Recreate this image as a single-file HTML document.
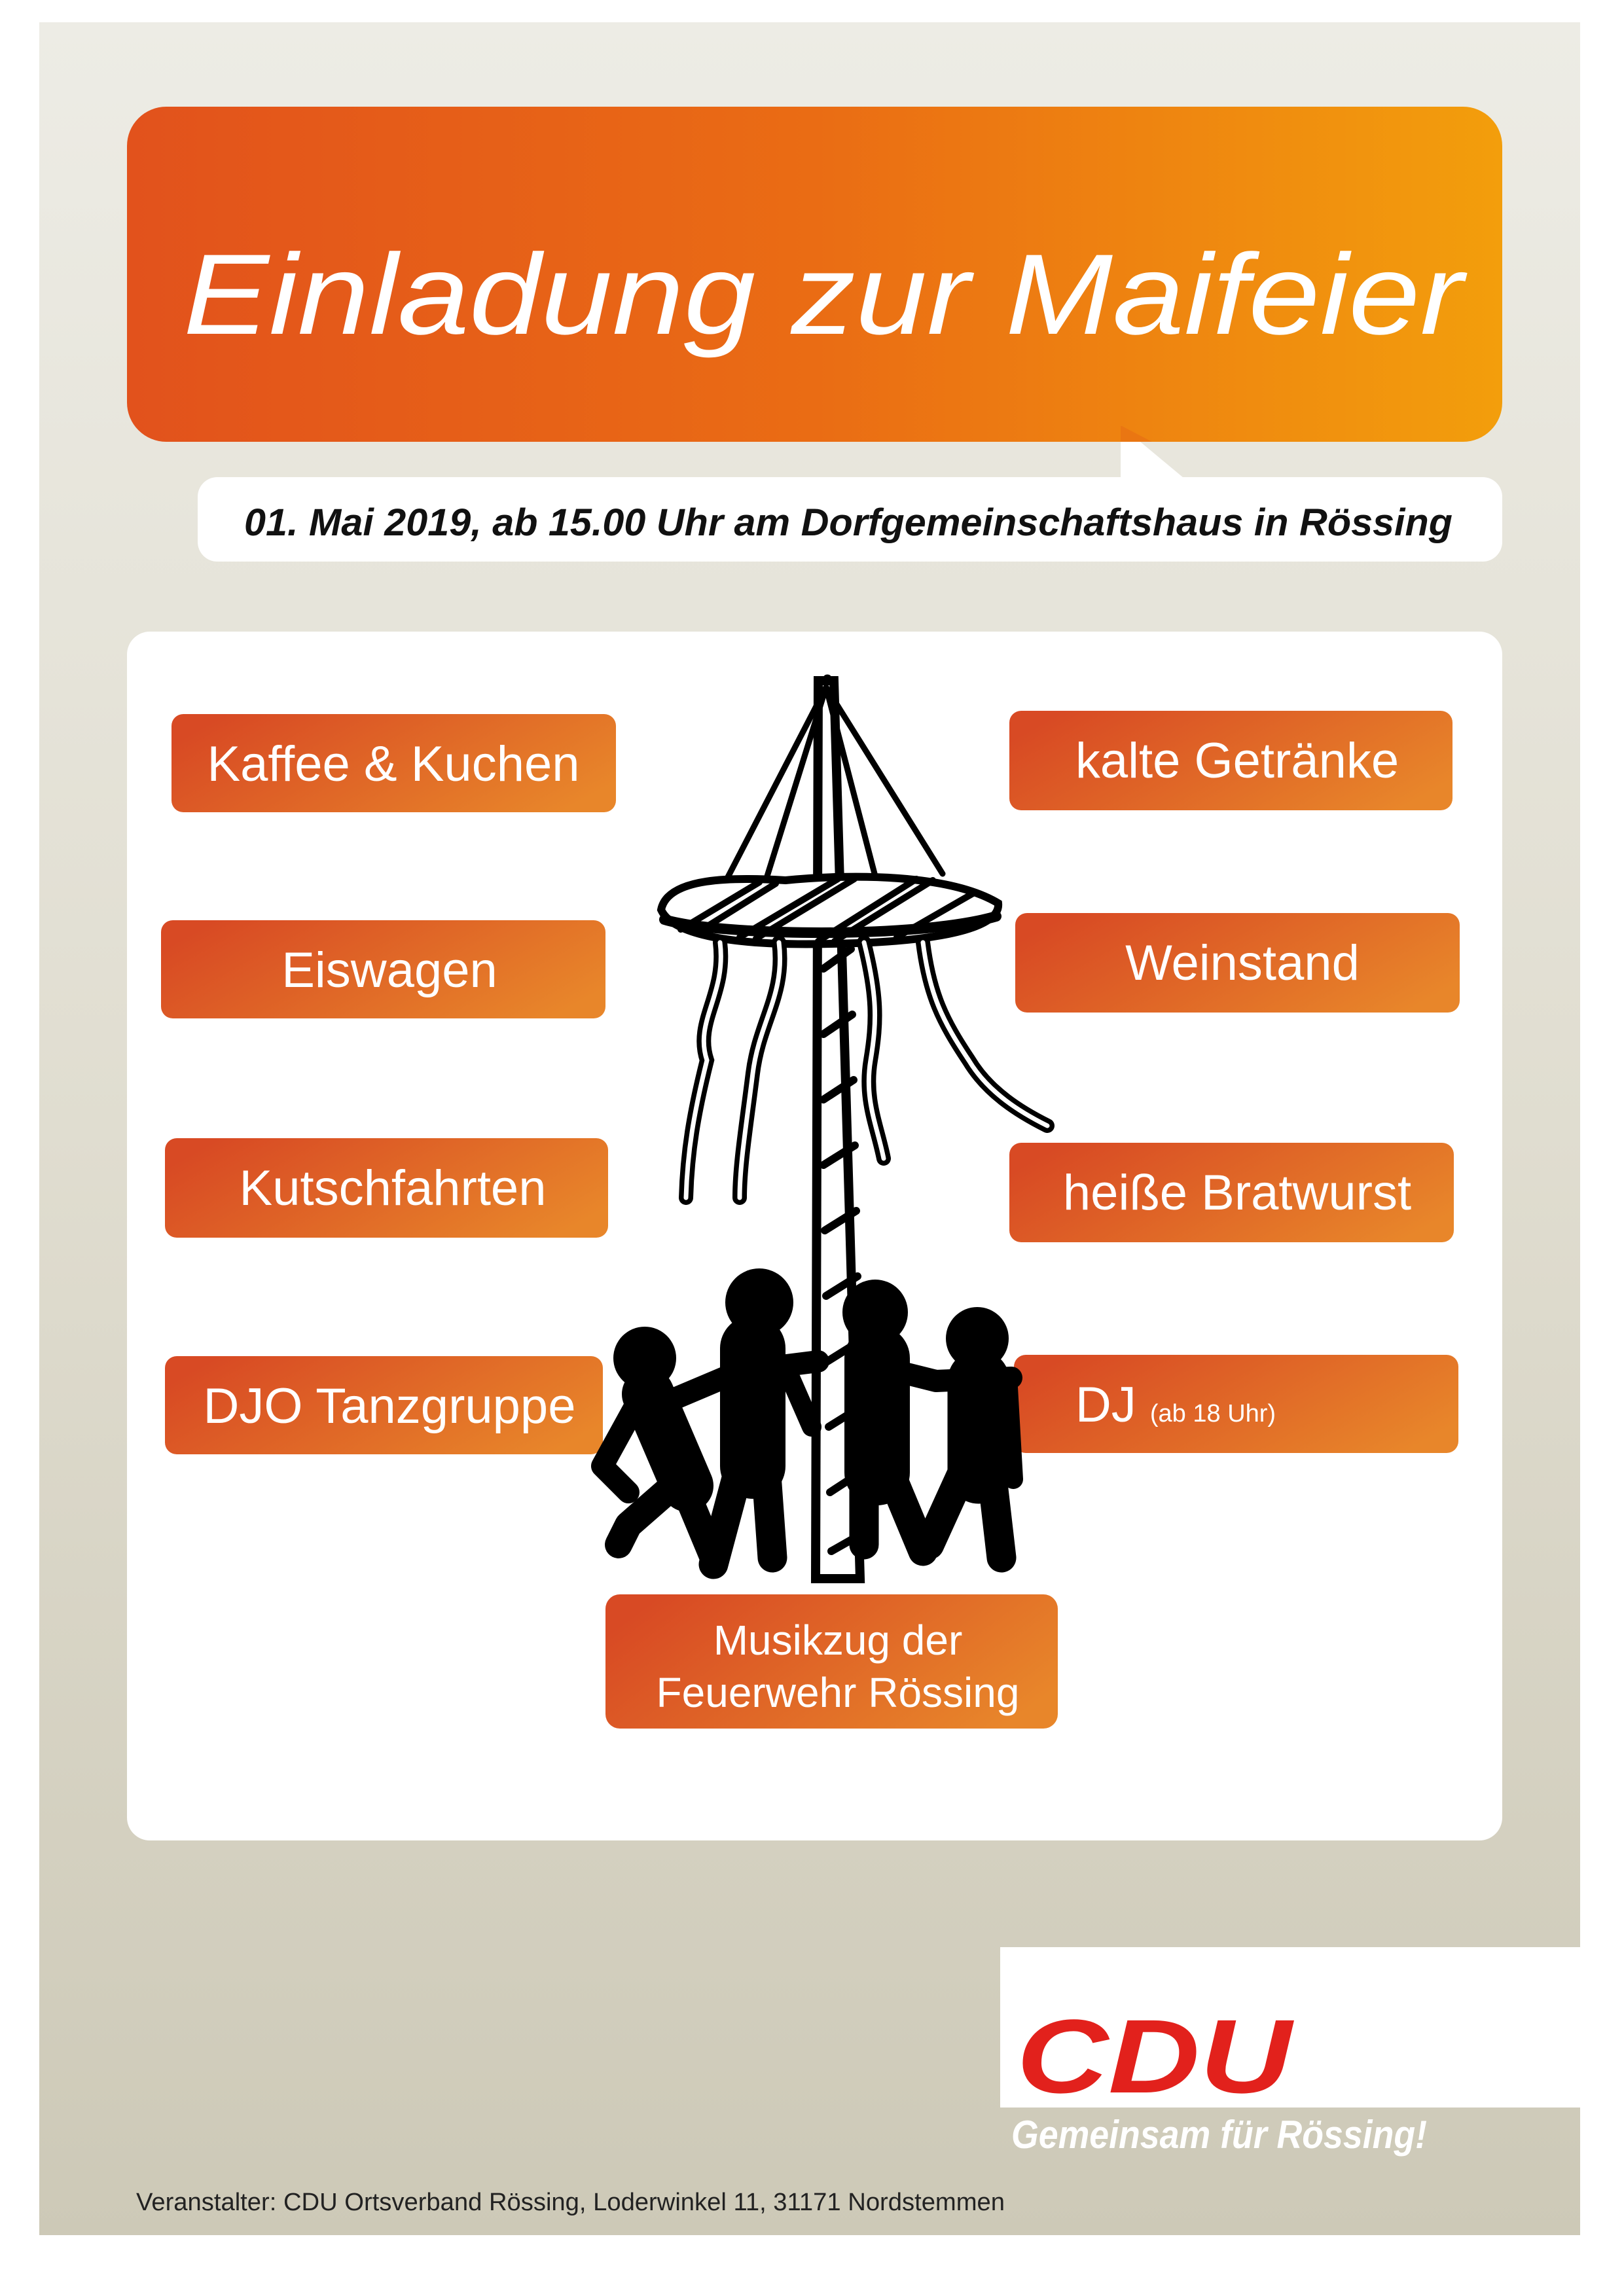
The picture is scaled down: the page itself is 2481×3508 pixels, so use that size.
<!DOCTYPE html>
<html><head><meta charset="utf-8"><style>
html,body{margin:0;padding:0;background:#fff}
svg{display:block}
text{font-family:"Liberation Sans",sans-serif}
</style></head><body>
<svg width="2481" height="3508" viewBox="0 0 2481 3508" xmlns="http://www.w3.org/2000/svg">
<defs>
<linearGradient id="bg" x1="0" y1="0" x2="0" y2="1">
<stop offset="0" stop-color="#edece5"/><stop offset="0.5" stop-color="#e0ddd0"/><stop offset="1" stop-color="#cdc9b7"/>
</linearGradient>
<linearGradient id="tt" x1="0" y1="0" x2="1" y2="0">
<stop offset="0" stop-color="#e2521c"/><stop offset="0.5" stop-color="#ea6c14"/><stop offset="1" stop-color="#f39e0c"/>
</linearGradient>
<linearGradient id="bt" x1="0" y1="0.3" x2="1" y2="0.7">
<stop offset="0" stop-color="#d84a24"/><stop offset="1" stop-color="#e8862a"/>
</linearGradient>
</defs>
<rect x="60" y="34" width="2354" height="3381" fill="url(#bg)"/>
<rect x="194" y="163" width="2101" height="512" rx="60" fill="url(#tt)"/>
<polygon points="1712,650 1712,730 1808,730" fill="#fff"/>
<polygon points="1712,650 1712,675 1760,675" fill="#ea7612"/>
<text x="280" y="510" font-size="175" font-style="italic" fill="#fff" textLength="1955" lengthAdjust="spacingAndGlyphs">Einladung zur Maifeier</text>
<rect x="302" y="729" width="1993" height="129" rx="30" fill="#fff"/>
<text x="373" y="818" font-size="58" font-weight="bold" font-style="italic" fill="#111" textLength="1846" lengthAdjust="spacingAndGlyphs">01. Mai 2019, ab 15.00 Uhr  am Dorfgemeinschaftshaus in Rössing</text>
<rect x="194" y="965" width="2101" height="1847" rx="35" fill="#fff"/>
<g font-size="76" fill="#fff" text-anchor="middle">
<rect x="262" y="1091" width="679" height="150" rx="18" fill="url(#bt)"/><text x="601" y="1193" fill="#fff">Kaffee &amp; Kuchen</text>
<rect x="1542" y="1086" width="677" height="152" rx="18" fill="url(#bt)"/><text x="1890" y="1188" fill="#fff">kalte Getränke</text>
<rect x="246" y="1406" width="679" height="150" rx="18" fill="url(#bt)"/><text x="595" y="1508" fill="#fff">Eiswagen</text>
<rect x="1551" y="1395" width="679" height="152" rx="18" fill="url(#bt)"/><text x="1898" y="1497" fill="#fff">Weinstand</text>
<rect x="252" y="1739" width="677" height="152" rx="18" fill="url(#bt)"/><text x="600" y="1841" fill="#fff">Kutschfahrten</text>
<rect x="1542" y="1746" width="679" height="152" rx="18" fill="url(#bt)"/><text x="1890" y="1848" fill="#fff">heiße Bratwurst</text>
<rect x="252" y="2072" width="669" height="150" rx="18" fill="url(#bt)"/><text x="595" y="2174" fill="#fff">DJO Tanzgruppe</text>
<rect x="1549" y="2070" width="679" height="150" rx="18" fill="url(#bt)"/><text x="1796" y="2172" fill="#fff">DJ <tspan font-size="38">(ab 18 Uhr)</tspan></text>
<rect x="925" y="2436" width="691" height="205" rx="22" fill="url(#bt)"/>
<text x="1280" y="2528" font-size="64" fill="#fff">Musikzug der</text>
<text x="1280" y="2608" font-size="64" fill="#fff">Feuerwehr Rössing</text>
</g>
<!-- maypole -->
<g stroke="#000" fill="none" stroke-linecap="round">
<ellipse cx="1264" cy="1036" rx="6" ry="5" fill="#000"/>
<polygon points="1250,1040 1274,1040 1314,2412 1246,2412" fill="#fff" stroke="#000" stroke-width="14"/>
<g stroke-width="12">
<path d="M1258,1480 L1300,1450 M1258,1580 L1302,1550 M1258,1680 L1304,1650 M1258,1780 L1306,1750 M1260,1880 L1308,1850 M1262,1980 L1310,1950 M1264,2080 L1312,2050 M1266,2180 L1314,2150 M1268,2280 L1314,2250 M1270,2370 L1314,2345"/>
</g>
<g stroke-width="9">
<line x1="1262" y1="1050" x2="1112" y2="1340"/>
<line x1="1262" y1="1050" x2="1170" y2="1345"/>
<line x1="1262" y1="1050" x2="1340" y2="1350"/>
<line x1="1262" y1="1050" x2="1440" y2="1335"/>
</g>
<path d="M1010,1390 C1020,1340 1120,1340 1200,1345 C1300,1335 1450,1335 1525,1380 C1530,1425 1400,1440 1270,1442 C1150,1445 1030,1435 1010,1390Z" fill="#fff" stroke-width="12"/>
<path d="M1015,1405 C1100,1430 1400,1435 1522,1400" stroke-width="16"/>
<g stroke-width="10">
<path d="M1040,1420 L1160,1348"/><path d="M1065,1425 L1185,1350"/><path d="M1130,1432 L1280,1343"/><path d="M1155,1434 L1305,1343"/><path d="M1250,1438 L1400,1343"/><path d="M1275,1438 L1425,1345"/><path d="M1370,1432 L1490,1363"/>
</g>
<g stroke-width="22">
<path d="M1100,1440 C1110,1520 1060,1560 1080,1620 C1060,1700 1050,1760 1048,1830"/>
<path d="M1190,1440 C1200,1520 1160,1560 1150,1640 C1140,1720 1130,1780 1130,1830"/>
<path d="M1320,1440 C1340,1520 1340,1560 1330,1620 C1320,1680 1340,1720 1350,1770"/>
<path d="M1410,1440 C1420,1520 1440,1560 1480,1620 C1510,1670 1560,1700 1600,1720"/>
</g>
<g stroke="#fff" stroke-width="7">
<path d="M1100,1440 C1110,1520 1060,1560 1080,1620 C1060,1700 1050,1760 1048,1830"/>
<path d="M1190,1440 C1200,1520 1160,1560 1150,1640 C1140,1720 1130,1780 1130,1830"/>
<path d="M1320,1440 C1340,1520 1340,1560 1330,1620 C1320,1680 1340,1720 1350,1770"/>
<path d="M1410,1440 C1420,1520 1440,1560 1480,1620 C1510,1670 1560,1700 1600,1720"/>
</g>
</g>
<!-- dancers -->
<g fill="#000">
<circle cx="985" cy="2075" r="48"/>
<circle cx="1160" cy="1990" r="52"/>
<circle cx="1337" cy="2005" r="50"/>
<circle cx="1493" cy="2045" r="48"/>
</g>
<g stroke="#000" stroke-linecap="round" stroke-linejoin="round" fill="none">
<!-- arms -->
<path d="M1000,2150 L1130,2095 L1250,2080" stroke-width="34"/>
<path d="M1310,2080 L1430,2110 L1545,2105" stroke-width="34"/>
<!-- person 1 -->
<path d="M990,2130 L1050,2270" stroke-width="80"/>
<path d="M1040,2260 L1090,2380 M1040,2260 L960,2330 L945,2360" stroke-width="42"/>
<path d="M975,2140 L920,2240 L960,2280" stroke-width="34"/>
<!-- person 2 -->
<path d="M1150,2060 L1150,2240" stroke-width="100"/>
<path d="M1130,2240 L1090,2390 M1170,2240 L1180,2380" stroke-width="45"/>
<path d="M1205,2100 L1240,2180" stroke-width="30"/>
<!-- person 3 -->
<path d="M1340,2075 L1340,2250" stroke-width="100"/>
<path d="M1320,2250 L1320,2360 M1360,2250 L1410,2370" stroke-width="45"/>
<!-- person 4 -->
<path d="M1495,2110 L1495,2250" stroke-width="95"/>
<path d="M1470,2250 L1420,2360 M1515,2250 L1530,2380" stroke-width="45"/>
<path d="M1540,2120 L1548,2260" stroke-width="30"/>
</g>
<rect x="1528" y="2975" width="900" height="245" fill="#fff"/>
<text x="1553" y="3197" font-size="160" font-weight="bold" font-style="italic" fill="#e2211c" textLength="420" lengthAdjust="spacingAndGlyphs">CDU</text>
<text x="1545" y="3282" font-size="60" font-weight="bold" font-style="italic" fill="#fff" textLength="635" lengthAdjust="spacingAndGlyphs">Gemeinsam für Rössing!</text>
<text x="208" y="3377" font-size="38" fill="#222" textLength="1327" lengthAdjust="spacingAndGlyphs">Veranstalter: CDU Ortsverband Rössing, Loderwinkel 11, 31171 Nordstemmen</text>
</svg>
</body></html>
